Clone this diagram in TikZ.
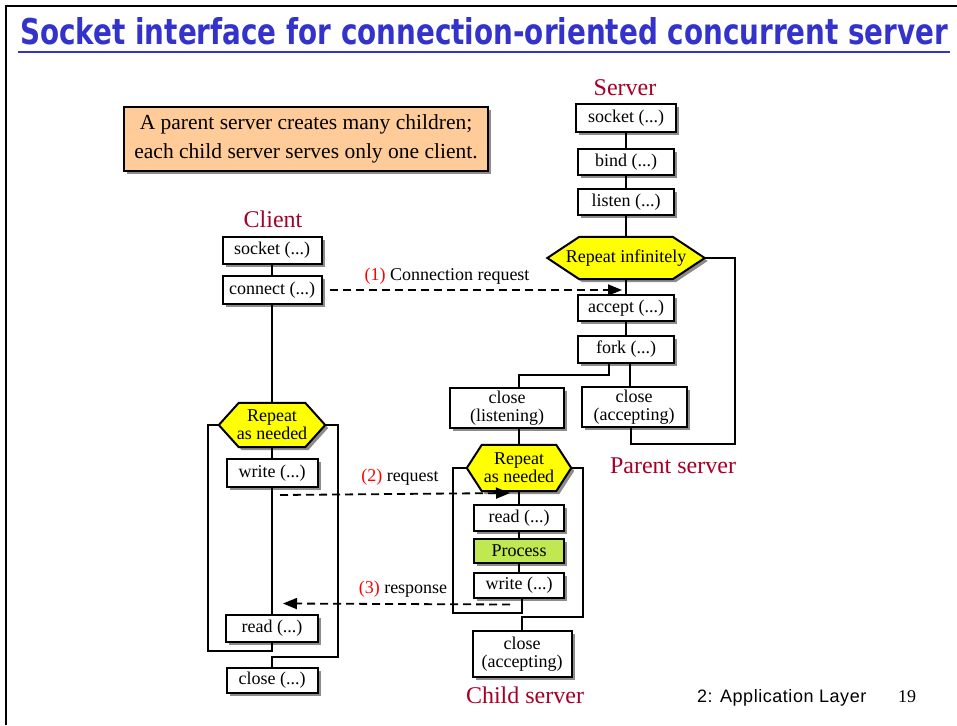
\documentclass[tikz,border=0pt]{standalone}
\usepackage{graphicx}
\usepackage{fontspec}
\setmainfont{Liberation Serif}
\newfontfamily\titlefont{DejaVu Sans}
\newfontfamily\footfont[LetterSpace=3]{Liberation Sans}
\usetikzlibrary{arrows.meta,shadows,backgrounds}
\definecolor{titleblue}{RGB}{51,51,204}
\definecolor{labelred}{RGB}{165,0,40}
\definecolor{numred}{RGB}{255,0,0}
\definecolor{notefill}{RGB}{255,204,153}
\definecolor{repeatfill}{RGB}{255,255,0}
\definecolor{procfill}{RGB}{192,232,80}
\definecolor{shadowgray}{RGB}{140,140,140}

\tikzset{
  shade box/.style={drop shadow={shadow xshift=3pt,shadow yshift=-3pt,fill=shadowgray,opacity=1}},
  call/.style={draw,line width=2pt,fill=white,shade box,inner sep=0pt,align=center,
    font=\fontsize{18}{18}\selectfont},
  rep/.style={inner sep=0pt,align=center,font=\fontsize{18}{18}\selectfont},
  hex/.style={draw,line width=2pt,fill=repeatfill,shade box},
  link/.style={line width=2pt},
  msg/.style={line width=1.8pt,dash pattern=on 8pt off 5pt,-{Triangle[length=14pt,width=11pt]}},
  side/.style={font=\fontsize{24}{24}\selectfont,text=labelred,anchor=base,inner sep=0pt},
  note/.style={font=\fontsize{18}{18}\selectfont,anchor=base,inner sep=0pt}
}

\begin{document}
\begin{tikzpicture}[x=1pt,y=-1pt]
	\useasboundingbox (0,0) rectangle (957,725);
	% frame and title
	\draw[line width=2.5pt] (6,725) -- (6,6) -- (957,6);
	\node[anchor=base west,inner sep=0pt,text=titleblue] (title) at (20,45)
	{\resizebox{928pt}{27pt}{\titlefont\bfseries Socket interface for connection-oriented concurrent server}};
	\draw[titleblue,line width=2pt] ([xshift=-2pt,yshift=-7pt]title.base west) -- ([xshift=2pt,yshift=-7pt]title.base east);
	\node[draw,line width=2pt,fill=notefill,shade box,minimum width=364pt,minimum height=64pt,align=center,
	font=\fontsize{21.5}{29}\selectfont] (note) at (306,139) {A parent server creates many children;\\each child server serves only one client.};

	% server
	\node[side] (lserver) at (625,95) {Server};
	\node[call,minimum width=100pt,minimum height=28pt] (ssocket) at (626,118) {socket (...)};
	\node[call,minimum width=96pt,minimum height=26pt] (sbind) at (626,162) {bind (...)};
	\node[call,minimum width=96pt,minimum height=26pt] (slisten) at (626,202) {listen (...)};
	\node[rep,minimum width=157pt,minimum height=42pt] (srepeat) at (626,258) {Repeat infinitely};
	\node[call,minimum width=96pt,minimum height=26pt] (saccept) at (626,308) {accept (...)};
	\node[call,minimum width=96pt,minimum height=27pt] (sfork) at (626,349) {fork (...)};
	\node[call,minimum width=114pt,minimum height=40pt] (pclosel) at (507,408) {close\\(listening)};
	\node[call,minimum width=105pt,minimum height=40pt] (pclosea) at (634,407) {close\\(accepting)};
	\node[side] (lparent) at (673,473) {Parent server};

	% client
	\node[side] (lclient) at (273,227) {Client};
	\node[call,minimum width=99pt,minimum height=27pt] (csocket) at (272,250) {socket (...)};
	\node[call,minimum width=99pt,minimum height=28pt] (cconnect) at (272,290) {connect (...)};
	\node[rep,minimum width=106pt,minimum height=44pt] (crepeat) at (272,425) {Repeat\\as needed};
	\node[call,minimum width=91pt,minimum height=28pt] (cwrite) at (272,473) {write (...)};
	\node[call,minimum width=92pt,minimum height=27pt] (cread) at (272,628) {read (...)};
	\node[call,minimum width=91pt,minimum height=25pt] (cclose) at (272,680) {close (...)};

	% child server
	\node[rep,minimum width=104pt,minimum height=46pt] (krepeat) at (519,468) {Repeat\\as needed};
	\node[call,minimum width=90pt,minimum height=26pt] (kread) at (519,518) {read (...)};
	\node[call,fill=procfill,minimum width=90pt,minimum height=24pt] (kproc) at (519,551) {Process};
	\node[call,minimum width=90pt,minimum height=25pt] (kwrite) at (519,585) {write (...)};
	\node[call,minimum width=99pt,minimum height=46pt] (kclose) at (522,654) {close\\(accepting)};
	\node[side] (lchild) at (525,703) {Child server};

	% hexagons behind their texts
	\begin{scope}[on background layer]
	\draw[hex] (srepeat.west) -- ([xshift=32pt]srepeat.north west) -- ([xshift=-32pt]srepeat.north east) -- (srepeat.east)
	-- ([xshift=-32pt]srepeat.south east) -- ([xshift=32pt]srepeat.south west) -- cycle;
	\draw[hex] (crepeat.west) -- ([xshift=20pt]crepeat.north west) -- ([xshift=-20pt]crepeat.north east) -- (crepeat.east)
	-- ([xshift=-20pt]crepeat.south east) -- ([xshift=20pt]crepeat.south west) -- cycle;
	\draw[hex] (krepeat.west) -- ([xshift=15pt]krepeat.north west) -- ([xshift=-15pt]krepeat.north east) -- (krepeat.east)
	-- ([xshift=-15pt]krepeat.south east) -- ([xshift=15pt]krepeat.south west) -- cycle;
	\end{scope}

	% flow lines
	\draw[link] (ssocket) -- (sbind);
	\draw[link] (sbind) -- (slisten);
	\draw[link] (slisten) -- (srepeat.north);
	\draw[link] (srepeat.south) -- (saccept);
	\draw[link] (saccept) -- (sfork);
	\draw[link] ([xshift=-17pt]sfork.south) -- ++(0,11) -| (krepeat.north |- pclosel.north);
	\draw[link] ([xshift=4pt]sfork.south) -- ([xshift=4pt]sfork.south |- pclosea.north);
	\draw[link] (srepeat.east) -- ++(30,0) |- ([xshift=-3pt,yshift=-16pt]pclosea.south) -- ([xshift=-3pt]pclosea.south);
	\draw[link] (krepeat.north |- pclosel.south) -- (krepeat.north);

	\draw[link] (csocket) -- (cconnect);
	\draw[link] (cconnect) -- (crepeat.north);
	\draw[link] (crepeat.south) -- (cwrite);
	\draw[link] (cwrite) -- (cread);
	\draw[link] (crepeat.west) -- ++(-11,0) |- ([yshift=-8pt]cread.south) -- (cread.south);
	\draw[link] (crepeat.east) -- ++(13,0) |- ([yshift=10pt]cclose.north) -- (cclose.north);

	\draw[link] (krepeat.south) -- (kread);
	\draw[link] (kread) -- (kproc);
	\draw[link] (kproc) -- (kwrite);
	\draw[link] (krepeat.west) -- ++(-14,0) |- ([xshift=3pt,yshift=-14pt]kwrite.south) -- ([xshift=3pt]kwrite.south);
	\draw[link] (krepeat.east) -- ++(12,0) |- ([yshift=13pt]kclose.north) -- (kclose.north);

	% messages
	\coordinate (reqend) at (622,290);
	\draw[msg] ([xshift=7pt]cconnect.east) -- (reqend);
	\node[note] (lconn) at (447,280) {\textcolor{numred}{(1)} Connection request};
	\draw[msg] ([xshift=8pt,yshift=-7pt]cwrite.south) -- ([xshift=-9pt,yshift=11pt]kread.north);
	\node[note] (lreq) at (400,481) {\textcolor{numred}{(2)} request};
	\draw[msg] ([xshift=-9pt,yshift=-6pt]kwrite.south) -- ([xshift=11pt,yshift=10pt]cread.north);
	\node[note] (lresp) at (403,593) {\textcolor{numred}{(3)} response};

	% footer
	\node[anchor=base west,inner sep=0pt,font=\footfont\fontsize{18}{18}\selectfont] (chapter) at (697,702) {2: Application Layer};
	\node[anchor=base west,inner sep=0pt,font=\fontsize{18}{18}\selectfont] (pageno) at (898,702) {19};
\end{tikzpicture}
\end{document}
